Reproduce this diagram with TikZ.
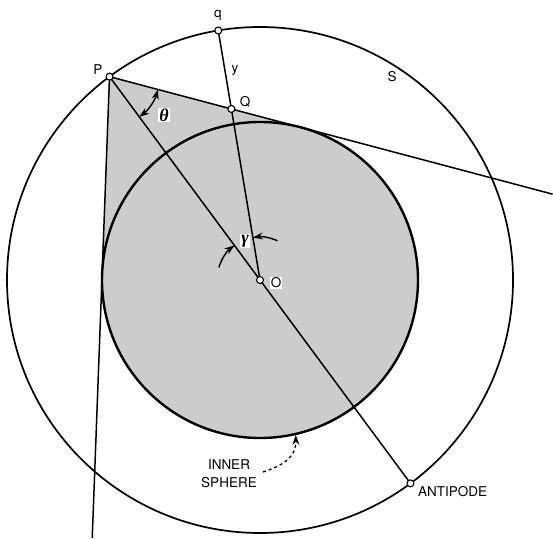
\documentclass[tikz,border=0pt]{standalone}
\usepackage{fontspec}
\setmainfont{TeX Gyre Heros}
\newfontfamily\grk{Liberation Serif}
\usetikzlibrary{calc,arrows.meta}
\begin{document}
\begin{tikzpicture}[x=1pt,y=1pt,line join=round,
  pt/.style={circle,draw,fill=white,line width=1.1pt,inner sep=0pt,minimum size=7pt},
  lab/.style={font=\fontsize{13.5}{15}\selectfont,inner sep=1pt},
  wlab/.style={lab,fill=white},
  glab/.style={wlab,font=\grk\itshape\bfseries\fontsize{18}{20}\selectfont},
  shade/.style={fill=black!20},
  thin line/.style={line width=1.5pt},
  tip/.style={-{Stealth[length=10pt,width=7pt]}},
  dimarr/.style={line width=1.4pt,{Stealth[length=10pt,width=7pt]}-{Stealth[length=10pt,width=7pt]}}]
\useasboundingbox (-260,-258) rectangle (293,280);
\def\R{253}
\def\r{158}
\coordinate (O) at (0,0);
\coordinate (P) at (126.5:\R);
\coordinate (A) at (-53.5:\R);
\coordinate (T1) at (75.15:\r);
\coordinate (T2) at (177.85:\r);
\coordinate (qq) at (99.5:\R);
\coordinate (Q) at (intersection of P--T1 and O--qq);
\coordinate (E1) at ($(P)!2.32!(T1)$);
\coordinate (E2) at ($(P)!2.336!(T2)$);
\coordinate (IS) at (3,-192);
\coordinate (IStip) at (-77:159);
% shaded cone + inner sphere
\fill[shade] (P) -- (T1) -- (O) -- (T2) -- cycle;
\fill[shade] (O) circle (\r);
% circles
\draw[line width=1.7pt] (O) circle (\R);
\draw[line width=2.4pt] (O) circle (\r);
% lines
\draw[thin line] (E2) -- (P) -- (E1);
\draw[thin line] (P) -- (A);
\draw[thin line] (O) -- (qq);
% angle theta
\draw[dimarr] ($(P)+(-53.5:50)$) arc[start angle=-53.5,end angle=-14.87,radius=50];
% angle gamma
\draw[line width=1.4pt,tip] ($(O)+(163:43)$) arc[start angle=163,end angle=126.5,radius=43];
\draw[line width=1.4pt,tip] ($(O)+(66:43)$) arc[start angle=66,end angle=99.5,radius=43];
% inner sphere pointer
\draw[line width=1.3pt,dashed,tip] (IS) .. controls (25,-185) and (36,-176) .. (IStip);
% points
\node[pt] (nP) at (P) {};
\node[pt] (nQ) at (Q) {};
\node[pt] (nq) at (qq) {};
\node[pt] (nO) at (O) {};
\node[pt] (nA) at (A) {};
% labels
\node[lab] (lP) at (-162,210) {P};
\node[lab] (lq) at (-42,265) {q};
\node[lab] (lS) at (132,203) {S};
\node[lab] (ly) at (-25,210) {y};
\node[wlab] (lQ) at (-15,178) {Q};
\node[glab] (lth) at (-96,165) {θ};
\node[glab] (lga) at (-15,39) {γ};
\node[wlab] (lO) at (16,-3) {O};
\node[lab,anchor=west] (lA) at (157,-212) {ANTIPODE};
\node[lab,align=center,font=\fontsize{13.5}{18}\selectfont] (lI) at (-31,-194) {INNER\\SPHERE};
\end{tikzpicture}
\end{document}
